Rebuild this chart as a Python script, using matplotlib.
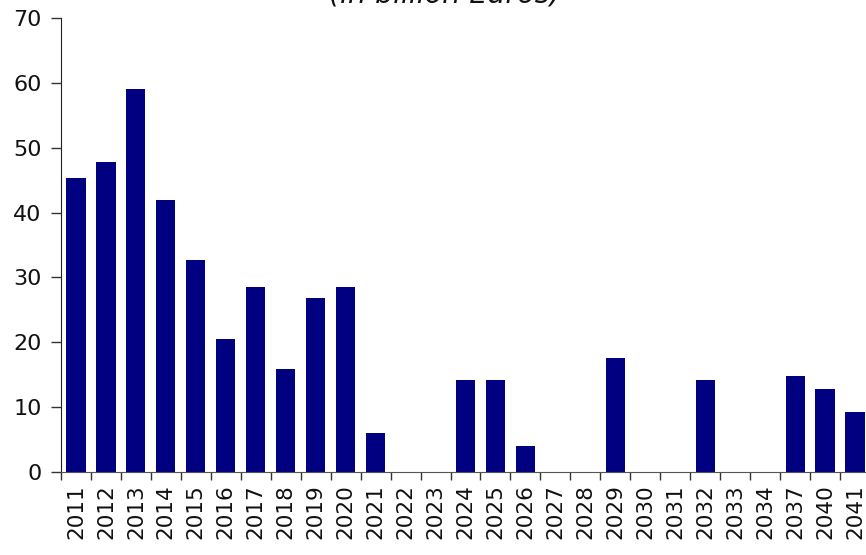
import matplotlib
matplotlib.use("Agg")
import matplotlib.pyplot as plt
import numpy as np

# Annual amounts, in billion euros
years = ["2011", "2012", "2013", "2014", "2015", "2016", "2017", "2018", "2019",
         "2020", "2021", "2022", "2023", "2024", "2025", "2026", "2027", "2028",
         "2029", "2030", "2031", "2032", "2033", "2034", "2037", "2040", "2041"]
amounts = [45.3, 47.8, 59.1, 41.9, 32.7, 20.5, 28.5, 15.8, 26.8,
           28.5, 6.0, 0, 0, 14.1, 14.1, 4.0, 0, 0,
           17.5, 0, 0, 14.1, 0, 0, 14.8, 12.8, 9.2]
y_ticks = [0, 10, 20, 30, 40, 50, 60, 70]
subtitle = "(in billion Euros)"

fig = plt.figure(figsize=(8.66, 5.55), dpi=100)
ax = fig.add_axes([61 / 866, 1 - 471.7 / 555, (870 - 61) / 866, (471.7 - 18.3) / 555])

x = np.arange(len(years))
ax.bar(x, amounts, width=0.64, color="#000080", zorder=2)

ax.set_xlim(-0.5, len(years) - 0.5)
ax.set_ylim(0, 70)
ax.set_yticks(y_ticks)
ax.set_yticklabels([str(v) for v in y_ticks], fontsize=16, color="#111111")

# ticks sit on the category boundaries
ax.set_xticks(x - 0.5, minor=False)
ax.set_xticklabels([""] * len(years))
ax.set_xticks(x, minor=True)
ax.set_xticklabels(years, minor=True, rotation=90, fontsize=15.5, color="#111111")
ax.tick_params(axis="x", which="major", direction="out", length=6, width=1, color="#333333")
ax.tick_params(axis="x", which="minor", length=0, pad=9)
ax.tick_params(axis="y", direction="out", length=7, width=1, pad=7, color="#333333")

for side in ("top", "right"):
    ax.spines[side].set_visible(False)
ax.spines["left"].set_color("#222222")
ax.spines["bottom"].set_color("#555555")

fig.text(445 / 866, 1 - 3 / 555, subtitle, ha="center", va="baseline",
         fontsize=20.5, style="italic", color="#111111")

fig.savefig("out.png", dpi=100)
